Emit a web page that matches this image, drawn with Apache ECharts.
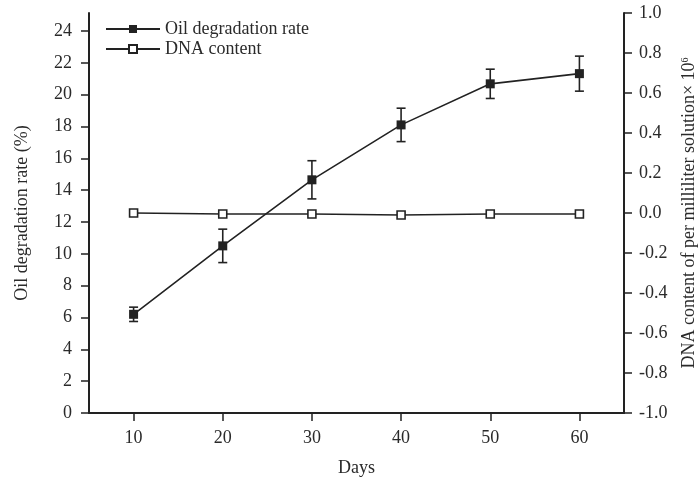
<!DOCTYPE html>
<html><head><meta charset="utf-8">
<script src="https://cdn.jsdelivr.net/npm/echarts@6/dist/echarts.min.js"></script>
<style>html,body{margin:0;padding:0;background:#fff}#c{width:699px;height:479px}</style>
</head><body><div id="c"></div>
<script>
const days = [10, 20, 30, 40, 50, 60];
const oilRate = [6.2, 10.5, 14.65, 18.1, 20.68, 21.32];
const oilErr = [0.45, 1.05, 1.2, 1.05, 0.92, 1.1];
const dnaContent = [0.0, -0.005, -0.005, -0.01, -0.005, -0.005];
const xTicks = [10, 20, 30, 40, 50, 60];
const leftTicks = [0, 2, 4, 6, 8, 10, 12, 14, 16, 18, 20, 22, 24];
const rightTicks = [-1.0, -0.8, -0.6, -0.4, -0.2, 0.0, 0.2, 0.4, 0.6, 0.8, 1.0];

const ink = '#222';
const txt = '#2a2a2a';
const font = 'Liberation Serif';
const fs = 18;
const chart = echarts.init(document.getElementById('c'));
const errData = days.map((d, i) => [d, oilRate[i] - oilErr[i], oilRate[i] + oilErr[i]]);

chart.setOption({
  animation: false,
  textStyle: { fontFamily: font, color: txt },
  grid: { left: 89, right: 75, top: 13, bottom: 66, containLabel: false, outerBoundsMode: 'none' },
  legend: {
    left: 100, top: 15, orient: 'vertical', itemWidth: 54, itemHeight: 10, itemGap: 2,
    textStyle: { fontFamily: font, fontSize: fs, color: txt },
    data: ['Oil degradation rate', 'DNA content']
  },
  xAxis: {
    type: 'value', min: 5, max: 65,
    name: 'Days', nameLocation: 'middle', nameGap: 46,
    nameTextStyle: { fontFamily: font, fontSize: fs, color: txt },
    axisLine: { lineStyle: { color: ink, width: 2 } },
    axisTick: { customValues: xTicks, length: 8, inside: false, lineStyle: { color: ink, width: 1.5 } },
    axisLabel: { customValues: xTicks, margin: 16, fontFamily: font, fontSize: fs, color: txt },
    splitLine: { show: false }
  },
  yAxis: [{
    type: 'value', min: 0, max: 25.13, position: 'left',
    name: 'Oil degradation rate (%)', nameLocation: 'middle', nameGap: 58, nameRotate: 90,
    nameTextStyle: { fontFamily: font, fontSize: fs, color: txt },
    axisLine: { show: true, lineStyle: { color: ink, width: 2 } },
    axisTick: { show: true, customValues: leftTicks, length: 8, lineStyle: { color: ink, width: 1.5 } },
    axisLabel: { customValues: leftTicks, margin: 17, fontFamily: font, fontSize: fs, color: txt },
    splitLine: { show: false }
  }, {
    type: 'value', min: -1, max: 1, position: 'right',
    name: '{a|DNA content of per milliliter solution× 10}{s|6}', nameLocation: 'middle', nameGap: 56, nameRotate: 90,
    nameTextStyle: { fontFamily: font, fontSize: fs, color: txt,
      rich: { a: { fontFamily: font, fontSize: fs, color: txt }, s: { fontFamily: font, fontSize: 10, color: txt, verticalAlign: 'bottom', padding: [0, 0, 9, 0] } } },
    axisLine: { show: true, lineStyle: { color: ink, width: 2 } },
    axisTick: { show: true, customValues: rightTicks, length: 8, lineStyle: { color: ink, width: 1.5 } },
    axisLabel: { customValues: rightTicks, margin: 15, fontFamily: font, fontSize: fs, color: txt,
      formatter: v => v.toFixed(1) },
    splitLine: { show: false }
  }],
  series: [{
    type: 'custom', name: 'err', yAxisIndex: 0, z: 3,
    renderItem: (params, api) => {
      const x = api.value(0);
      const lo = api.coord([x, api.value(1)]);
      const hi = api.coord([x, api.value(2)]);
      const w = 4.5;
      const st = { stroke: ink, lineWidth: 1.6 };
      return { type: 'group', children: [
        { type: 'line', shape: { x1: lo[0], y1: lo[1], x2: hi[0], y2: hi[1] }, style: st },
        { type: 'line', shape: { x1: lo[0] - w, y1: lo[1], x2: lo[0] + w, y2: lo[1] }, style: st },
        { type: 'line', shape: { x1: hi[0] - w, y1: hi[1], x2: hi[0] + w, y2: hi[1] }, style: st }
      ]};
    },
    data: errData
  }, {
    type: 'line', name: 'Oil degradation rate', yAxisIndex: 0, z: 4,
    data: days.map((d, i) => [d, oilRate[i]]),
    symbol: 'rect', symbolSize: 9,
    lineStyle: { color: ink, width: 1.6 },
    itemStyle: { color: ink, borderColor: ink, borderWidth: 0 }
  }, {
    type: 'line', name: 'DNA content', yAxisIndex: 1, z: 4,
    data: days.map((d, i) => [d, dnaContent[i]]),
    symbol: 'rect', symbolSize: 8,
    lineStyle: { color: ink, width: 1.6 },
    itemStyle: { color: '#fff', borderColor: ink, borderWidth: 1.6 }
  }]
});
</script></body></html>
